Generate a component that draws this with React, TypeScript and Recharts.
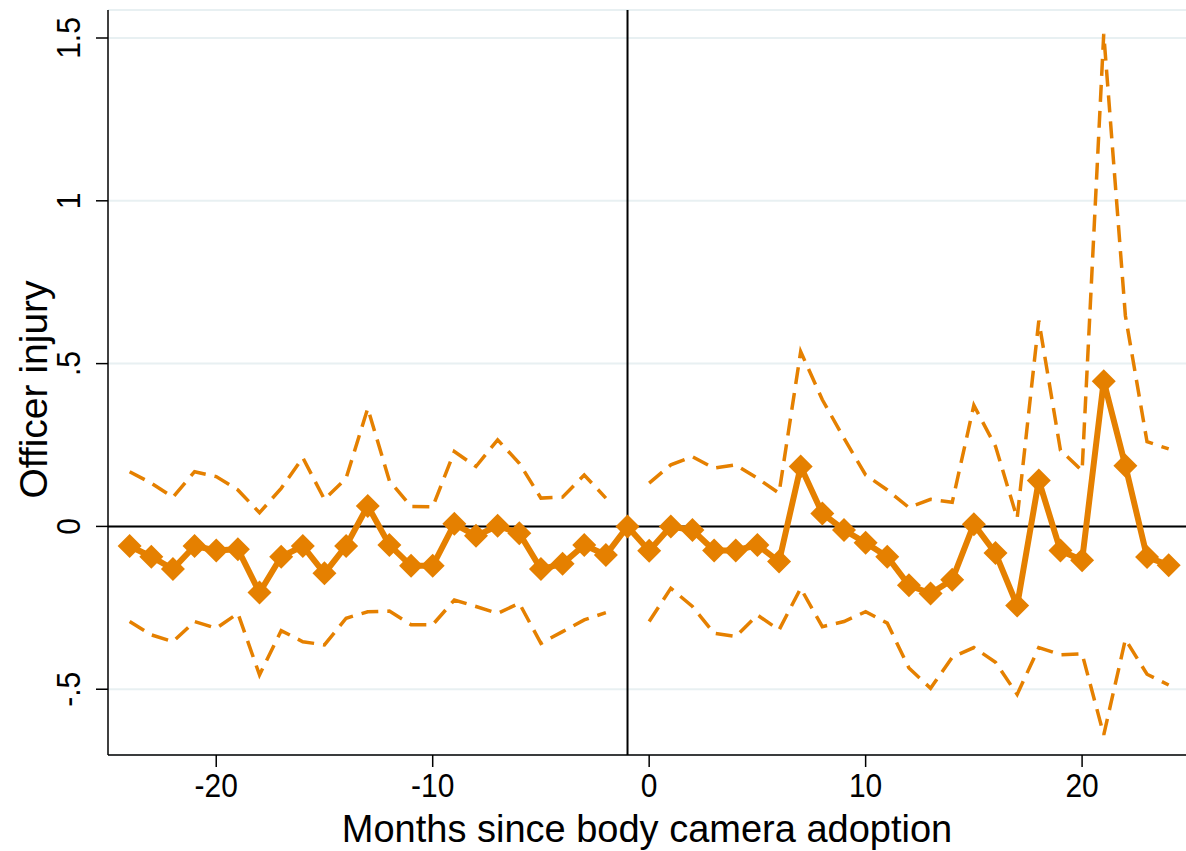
import React from 'react';
import { LineChart, Line, XAxis, YAxis, CartesianGrid, ReferenceLine, Label } from 'recharts';

const ORANGE = '#E58000';
const FONT = '"Liberation Sans", Arial, Helvetica, sans-serif';

// Event-study months relative to adoption
const months = [
    -24, -23, -22, -21, -20, -19, -18, -17, -16, -15, -14, -13, -12, -11, -10, -9, -8, -7, -6, -5, -4, -3, -2, -1,
    0, 1, 2, 3, 4, 5, 6, 7, 8, 9, 10, 11, 12, 13, 14, 15, 16, 17, 18, 19, 20, 21, 22, 23, 24,
];

// Point estimates
const estimate = [
    -0.06, -0.093, -0.131, -0.06, -0.074, -0.07, -0.203, -0.093, -0.06, -0.144, -0.06, 0.063, -0.057, -0.121, -0.121,
    0.008, -0.029, 0.002, -0.021, -0.131, -0.115, -0.057, -0.088, 0,
    -0.075, 0.0, -0.011, -0.074, -0.074, -0.057, -0.108, 0.184, 0.04, -0.011, -0.05, -0.093, -0.181, -0.206, -0.164,
    0.007, -0.082, -0.243, 0.141, -0.074, -0.104, 0.446, 0.186, -0.094, -0.119,
];

// Upper 95% bound (none for the reference month)
const upper = [
    0.168, 0.133, 0.09, 0.168, 0.153, 0.112, 0.042, 0.117, 0.211, 0.083, 0.148, 0.363, 0.14, 0.061, 0.06,
    0.23, 0.184, 0.266, 0.194, 0.087, 0.09, 0.158, 0.087, null,
    0.133, 0.189, 0.214, 0.179, 0.189, 0.148, 0.102, 0.537, 0.389, 0.271, 0.158, 0.112, 0.058, 0.083, 0.074,
    0.372, 0.246, 0.025, 0.632, 0.234, 0.171, 1.513, 0.647, 0.26, 0.238,
];

// Lower 95% bound
const lower = [
    -0.292, -0.333, -0.354, -0.292, -0.313, -0.267, -0.456, -0.32, -0.354, -0.364, -0.282, -0.262, -0.26, -0.302, -0.302,
    -0.226, -0.246, -0.267, -0.236, -0.359, -0.323, -0.287, -0.265, null,
    -0.292, -0.19, -0.246, -0.328, -0.338, -0.272, -0.318, -0.19, -0.308, -0.292, -0.262, -0.297, -0.435, -0.497, -0.402,
    -0.372, -0.417, -0.516, -0.372, -0.394, -0.391, -0.64, -0.347, -0.454, -0.487,
];

const xTicks = [-20, -10, 0, 10, 20];
const yTicks = [-0.5, 0, 0.5, 1, 1.5];
const yTickLabels = ['-.5', '0', '.5', '1', '1.5'];

const data = months.map((m, i) => ({ x: m, est: estimate[i], hi: upper[i], lo: lower[i] }));

// narrow Helvetica look: squeeze the glyphs a little
const XTick = (props: any) => {
    const { x, y, payload } = props;
    return (
        <text transform={`translate(${x}, ${y + 28}) scale(0.88, 1)`} textAnchor="middle" fontSize={34} fontFamily={FONT} fill="#000">
            {payload.value}
        </text>
    );
};

const YTick = (props: any) => {
    const { x, y, payload } = props;
    const idx = yTicks.indexOf(payload.value);
    const tx = x - 14;
    return (
        <text transform={`translate(${tx}, ${y}) rotate(-90) scale(0.88, 1)`} textAnchor="middle" fontSize={34} fontFamily={FONT} fill="#000">
            {idx >= 0 ? yTickLabels[idx] : payload.value}
        </text>
    );
};

const Diamond = (props: any) => {
    const { cx, cy, index } = props;
    if (cx == null || cy == null) return <g key={`d-${index}`} />;
    const r = 12;
    return <path key={`d-${index}`} d={`M${cx},${cy - r}L${cx + r},${cy}L${cx},${cy + r}L${cx - r},${cy}Z`} fill={ORANGE} />;
};

const YTitle = (props: any) => {
    const vb = props.viewBox || {};
    const cy = (vb.y || 0) + (vb.height || 0) / 2 + 7;
    const tx = 47;
    return (
        <text transform={`translate(${tx}, ${cy}) rotate(-90)`} textAnchor="middle" fontSize={39} fontFamily={FONT} fill="#000">
            Officer injury
        </text>
    );
};

export default function App() {
    return (
        <div style={{ position: 'absolute', left: 0, top: 0, background: '#fff' }}>
            <LineChart width={1186} height={851} data={data} margin={{ top: 10, right: 0, bottom: 0, left: 0 }}>
                <CartesianGrid horizontal vertical={false} stroke="#E8F0F2" strokeWidth={2} />
                <XAxis
                    type="number"
                    dataKey="x"
                    domain={[-25, 24.8]}
                    allowDataOverflow
                    ticks={xTicks}
                    height={96}
                    tickSize={12}
                    tick={<XTick />}
                    tickLine={{ stroke: '#000', strokeWidth: 1.5 }}
                    axisLine={{ stroke: '#000', strokeWidth: 1.5 }}
                >
                    <Label value="Months since body camera adoption" position="insideBottom" offset={9} fontSize={38} fontFamily={FONT} fill="#000" />
                </XAxis>
                <YAxis
                    type="number"
                    domain={[-0.702, 1.586]}
                    allowDataOverflow
                    ticks={yTicks}
                    width={108}
                    tickSize={12}
                    tick={<YTick />}
                    tickLine={{ stroke: '#000', strokeWidth: 1.5 }}
                    axisLine={{ stroke: '#000', strokeWidth: 1.5 }}
                >
                    <Label content={<YTitle />} />
                </YAxis>
                <ReferenceLine y={0} stroke="#000" strokeWidth={2} />
                <ReferenceLine x={-1} stroke="#000" strokeWidth={2} />
                <Line type="linear" dataKey="hi" stroke={ORANGE} strokeWidth={3.5} strokeDasharray="17 9" dot={false} activeDot={false} isAnimationActive={false} />
                <Line type="linear" dataKey="lo" stroke={ORANGE} strokeWidth={3.5} strokeDasharray="17 9" dot={false} activeDot={false} isAnimationActive={false} />
                <Line type="linear" dataKey="est" stroke={ORANGE} strokeWidth={6} dot={<Diamond />} activeDot={false} isAnimationActive={false} />
            </LineChart>
        </div>
    );
}
